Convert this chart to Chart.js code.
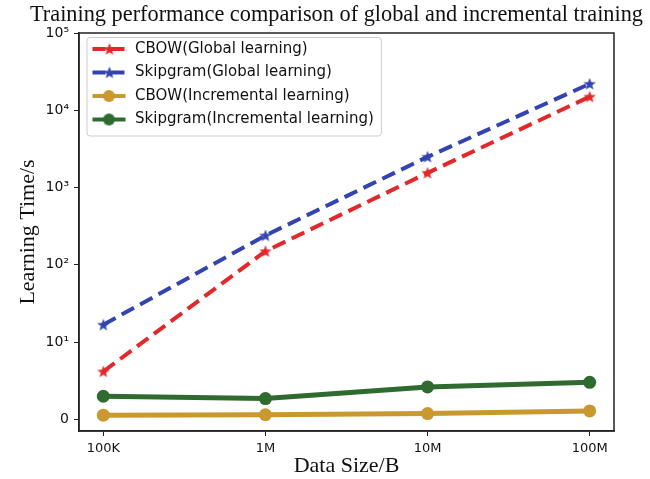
<!DOCTYPE html>
<html>
<head>
<meta charset="utf-8">
<script src="https://cdn.jsdelivr.net/npm/chart.js@4/dist/chart.umd.min.js"></script>
<style>
  html, body { margin: 0; padding: 0; background: #fff; }
  #wrap { width: 650px; height: 479px; }
</style>
</head>
<body>
<div id="wrap"><canvas id="perf-chart" width="650" height="479"></canvas></div>
<script>
const sizes = ['100K', '1M', '10M', '100M'];
const cbowGlobal = [6.2, 150, 1550, 15000];
const skipGlobal = [16.8, 240, 2500, 22000];
const cbowIncremental = [0.55, 0.6, 0.75, 1.1];
const skipIncremental = [3.0, 2.7, 4.2, 4.8];
const yTickValues = [0, 10, 100, 1000, 10000, 100000];
const yTickLabels = ['0', '10¹', '10²', '10³', '10⁴', '10⁵'];

const RED = '#e3282b';
const BLUE = '#3344b0';
const GOLD = '#c9982f';
const GREEN = '#2f6b2f';

const LEGEND_FONT = 15;
const LEGEND_PAD = 8.5;
const SAMPLE_W = 40;

// symlog like matplotlib: linear between 0 and 10, log above
const LINTHRESH = 10;
function symlog(v) {
    const a = Math.abs(v);
    return Math.sign(v) * (a <= LINTHRESH ? a / LINTHRESH : 1 + Math.log10(a / LINTHRESH));
}
function symexp(t) {
    const a = Math.abs(t);
    return Math.sign(t) * (a <= 1 ? a * LINTHRESH : LINTHRESH * Math.pow(10, a - 1));
}

class SymlogScale extends Chart.LinearScale {
    getPixelForValue(value) {
        const lo = symlog(this.min), hi = symlog(this.max);
        return this.getPixelForDecimal((symlog(value) - lo) / (hi - lo));
    }
    getValueForPixel(pixel) {
        const lo = symlog(this.min), hi = symlog(this.max);
        return symexp(lo + this.getDecimalForPixel(pixel) * (hi - lo));
    }
}
SymlogScale.id = 'symlog';
SymlogScale.defaults = Chart.LinearScale.defaults;
Chart.register(SymlogScale);

function starPath(ctx, cx, cy, r) {
    ctx.beginPath();
    for (let i = 0; i < 10; i++) {
        const rr = i % 2 === 0 ? r : r * 0.42;
        const ang = -Math.PI / 2 + i * Math.PI / 5;
        const x = cx + rr * Math.cos(ang), y = cy + rr * Math.sin(ang);
        if (i === 0) ctx.moveTo(x, y); else ctx.lineTo(x, y);
    }
    ctx.closePath();
}

function starMarker(color) {
    const c = document.createElement('canvas');
    c.width = 14; c.height = 14;
    const ctx = c.getContext('2d');
    ctx.fillStyle = color;
    starPath(ctx, 7, 7.5, 6.5);
    ctx.fill();
    return c;
}

function legendSample(color, dashed) {
    const c = document.createElement('canvas');
    c.width = SAMPLE_W; c.height = 16;
    const ctx = c.getContext('2d');
    ctx.strokeStyle = color;
    ctx.fillStyle = color;
    ctx.lineWidth = 4;
    if (dashed) ctx.setLineDash([13, 6]);
    ctx.beginPath();
    ctx.moveTo(5, 8);
    ctx.lineTo(38, 8);
    ctx.stroke();
    if (dashed) {
        starPath(ctx, 22, 8.5, 6.5);
        ctx.fill();
    } else {
        ctx.beginPath();
        ctx.arc(21.5, 8, 6, 0, Math.PI * 2);
        ctx.fill();
    }
    return c;
}

const samples = [legendSample(RED, true), legendSample(BLUE, true), legendSample(GOLD, false), legendSample(GREEN, false)];

function points(values) {
    return values.map((v, i) => ({ x: i, y: v }));
}

// keeps the legend inside the plot and draws a frame round it
const legendFrame = {
    id: 'legendFrame',
    afterLayout(chart) {
        const lg = chart.legend, a = chart.chartArea;
        if (!lg) return;
        lg.top = a.top; lg.bottom = a.bottom;
        lg.left = a.left; lg.right = a.right;
    },
    afterDraw(chart) {
        const lg = chart.legend;
        if (!lg || !lg.legendItems) return;
        const ctx = chart.ctx;
        ctx.save();
        ctx.font = LEGEND_FONT + 'px "DejaVu Sans"';
        let textW = 0;
        lg.legendItems.forEach(it => { textW = Math.max(textW, ctx.measureText(it.text).width); });
        const n = lg.legendItems.length;
        const l = lg.left + LEGEND_PAD - 0.5;
        const t = lg.top + LEGEND_PAD - 4;
        const w = SAMPLE_W + LEGEND_FONT / 2 + textW + 8;
        const h = n * LEGEND_FONT + (n - 1) * LEGEND_PAD + 13;
        ctx.strokeStyle = '#cccccc';
        ctx.lineWidth = 1;
        ctx.beginPath();
        ctx.roundRect(l, t, w, h, 3);
        ctx.stroke();
        ctx.restore();
    }
};

const plotFrame = {
    id: 'plotFrame',
    afterDatasetsDraw(chart) {
        const a = chart.chartArea;
        const ctx = chart.ctx;
        ctx.save();
        ctx.strokeStyle = '#222';
        ctx.lineWidth = 1.5;
        ctx.strokeRect(a.left, a.top, a.right - a.left, a.bottom - a.top);
        ctx.restore();
    }
};

const ctx = document.getElementById('perf-chart').getContext('2d');
new Chart(ctx, {
    type: 'line',
    data: {
        datasets: [
            {
                label: 'CBOW(Global learning)',
                data: points(cbowGlobal),
                borderColor: RED,
                backgroundColor: RED,
                borderWidth: 4,
                borderDash: [14, 7],
                pointStyle: starMarker(RED),
                tension: 0
            },
            {
                label: 'Skipgram(Global learning)',
                data: points(skipGlobal),
                borderColor: BLUE,
                backgroundColor: BLUE,
                borderWidth: 4,
                borderDash: [14, 7],
                pointStyle: starMarker(BLUE),
                tension: 0
            },
            {
                label: 'CBOW(Incremental learning)',
                data: points(cbowIncremental),
                borderColor: GOLD,
                backgroundColor: GOLD,
                borderWidth: 5,
                pointStyle: 'circle',
                pointRadius: 6.5,
                pointBorderWidth: 0,
                tension: 0
            },
            {
                label: 'Skipgram(Incremental learning)',
                data: points(skipIncremental),
                borderColor: GREEN,
                backgroundColor: GREEN,
                borderWidth: 5,
                pointStyle: 'circle',
                pointRadius: 6.5,
                pointBorderWidth: 0,
                tension: 0
            }
        ]
    },
    options: {
        responsive: false,
        animation: false,
        layout: { padding: { left: 30, right: 7, top: 0, bottom: 0 } },
        plugins: {
            title: {
                display: true,
                align: 'start',
                text: 'Training performance comparison of global and incremental training',
                color: '#111',
                font: { family: 'Liberation Serif', size: 24, weight: 'normal', lineHeight: 1.2 },
                padding: { top: 0, bottom: 4.2 }
            },
            legend: {
                position: 'chartArea',
                align: 'start',
                labels: {
                    usePointStyle: true,
                    pointStyleWidth: SAMPLE_W,
                    padding: LEGEND_PAD,
                    color: '#111',
                    font: { family: 'DejaVu Sans', size: LEGEND_FONT },
                    generateLabels: (chart) => {
                        const items = Chart.defaults.plugins.legend.labels.generateLabels(chart);
                        items.forEach((it, i) => { it.pointStyle = samples[i]; });
                        return items;
                    }
                }
            },
            tooltip: { enabled: false }
        },
        scales: {
            x: {
                type: 'linear',
                min: -0.15,
                max: 3.15,
                afterBuildTicks: (axis) => { axis.ticks = sizes.map((_, i) => ({ value: i })); },
                afterFit: (axis) => { axis.height = 48; },
                grid: { drawOnChartArea: false, drawTicks: true, tickLength: 5, color: '#222' },
                border: { color: '#222', width: 1.5 },
                ticks: {
                    color: '#111',
                    padding: 5,
                    font: { family: 'DejaVu Sans', size: 13 },
                    callback: (value) => sizes[value]
                },
                title: {
                    display: true,
                    text: 'Data Size/B',
                    color: '#111',
                    font: { family: 'Liberation Serif', size: 22, lineHeight: 1.2 },
                    padding: { top: 0, bottom: 0 }
                }
            },
            y: {
                type: 'symlog',
                min: -1.5,
                max: 100000,
                afterBuildTicks: (axis) => { axis.ticks = yTickValues.map(v => ({ value: v })); },
                afterFit: (axis) => { axis.width = 49; },
                grid: { drawOnChartArea: false, drawTicks: true, tickLength: 5, color: '#222' },
                border: { color: '#222', width: 1.5 },
                ticks: {
                    color: '#111',
                    padding: 5,
                    autoSkip: false,
                    font: { family: 'DejaVu Sans', size: 14 },
                    callback: (value) => yTickLabels[yTickValues.indexOf(value)]
                },
                title: {
                    display: true,
                    text: 'Learning Time/s',
                    color: '#111',
                    font: { family: 'Liberation Serif', size: 22, lineHeight: 0.2 },
                    padding: { top: -4.2, bottom: 0 }
                }
            },
            // empty right-hand gutter so the title can run past the plot
            gutter: {
                type: 'linear',
                position: 'right',
                afterFit: (axis) => { axis.width = 29; },
                grid: { display: false },
                border: { display: false },
                ticks: { display: false }
            }
        }
    },
    plugins: [legendFrame, plotFrame]
});
</script>
</body>
</html>
